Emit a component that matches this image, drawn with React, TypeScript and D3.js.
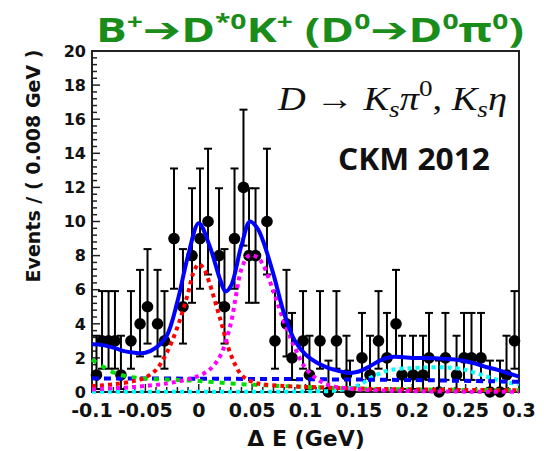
import React from "react";
import * as d3 from "d3";

// ---- data ----
const DATA_X = [
  -0.0958, -0.0906, -0.0845, -0.0785, -0.0729, -0.0635, -0.055, -0.048, -0.0386, -0.0321,
  -0.0232, -0.0148, -0.0063, 0.0012, 0.0087, 0.019, 0.0241, 0.0335, 0.0419, 0.0471,
  0.0532, 0.0639, 0.0714, 0.0822, 0.0874, 0.0977, 0.1037, 0.1136, 0.1215, 0.129,
  0.1384, 0.1417, 0.1529, 0.1604, 0.1684, 0.1763, 0.1848, 0.1904, 0.2007, 0.2101,
  0.2157, 0.2251, 0.2311, 0.2415, 0.2485, 0.2555, 0.2644, 0.2728, 0.2822, 0.2883, 0.2958,
];
const DATA_N = [
  1, 3, 3, 3, 1, 3, 4, 5, 4, 3,
  9, 5, 8, 9, 10, 8, 5, 9, 12, 8,
  8, 10, 3, 4, 2, 3, 1, 3, 0, 3,
  1, 0, 2, 1, 3, 2, 4, 1, 1, 1,
  2, 0, 2, 1, 2, 2, 2, 0, 0, 1, 3,
];
// Poisson (Garwood 68%) interval table, indexed by count
const POIS_LO = [0, 0.173, 0.708, 1.367, 2.086, 2.84, 3.62, 4.419, 5.232, 6.057, 6.891, 7.734, 8.585];
const POIS_HI = [1.841, 3.3, 4.638, 5.918, 7.163, 8.382, 9.584, 10.77, 11.95, 13.11, 14.27, 15.42, 16.56];

const TOTAL_X = [-0.1, -0.09, -0.08, -0.07, -0.06, -0.05, -0.04, -0.03, -0.02, -0.01, 0, 0.01, 0.02, 0.025, 0.03, 0.04, 0.048, 0.055, 0.06, 0.07, 0.08, 0.09, 0.1, 0.11, 0.12, 0.13, 0.14, 0.15, 0.16, 0.17, 0.18, 0.19, 0.2, 0.22, 0.24, 0.25, 0.26, 0.27, 0.28, 0.29, 0.3];
const TOTAL_Y = [2.8, 2.75, 2.6, 2.4, 2.3, 2.3, 2.6, 3.3, 5.3, 8.0, 9.9, 8.6, 6.6, 5.9, 6.2, 8.6, 10.0, 9.6, 8.9, 6.9, 4.6, 3.0, 2.2, 1.75, 1.45, 1.25, 1.12, 1.2, 1.5, 1.85, 2.05, 2.05, 2.0, 1.98, 1.9, 1.8, 1.65, 1.45, 1.3, 1.1, 0.9];

const RED_X = [-0.1, -0.08, -0.06, -0.05, -0.04, -0.03, -0.02, -0.01, -0.005, 0, 0.005, 0.01, 0.02, 0.03, 0.04, 0.05, 0.06, 0.08, 0.1, 0.15, 0.2, 0.3];
const RED_Y = [0.35, 0.45, 0.65, 0.85, 1.3, 2.3, 3.8, 5.8, 7.0, 7.5, 7.2, 6.4, 4.3, 2.2, 1.0, 0.6, 0.45, 0.35, 0.3, 0.2, 0.15, 0.1];

const MAG_X = [-0.1, -0.06, -0.03, -0.01, 0, 0.01, 0.02, 0.03, 0.035, 0.04, 0.047, 0.055, 0.06, 0.07, 0.08, 0.09, 0.1, 0.11, 0.12, 0.14, 0.2, 0.3];
const MAG_Y = [0.15, 0.3, 0.5, 0.75, 0.95, 1.3, 2.1, 4.0, 5.7, 7.2, 8.0, 7.9, 7.5, 5.9, 4.1, 2.6, 1.4, 0.8, 0.45, 0.2, 0.05, 0.02];

const GREEN_X = [-0.1, -0.09, -0.08, -0.07, -0.06, -0.04, -0.02, 0, 0.03, 0.06, 0.1, 0.15, 0.2, 0.3];
const GREEN_Y = [1.9, 1.5, 1.15, 0.95, 0.85, 0.75, 0.7, 0.65, 0.5, 0.4, 0.3, 0.2, 0.15, 0.1];

const BKG_X = [-0.1, 0.0, 0.1, 0.2, 0.3];
const BKG_Y = [0.8, 0.78, 0.75, 0.7, 0.6];

const CYAN_X = [-0.1, 0.1, 0.13, 0.15, 0.16, 0.17, 0.18, 0.2, 0.23, 0.25, 0.26, 0.27, 0.28, 0.29, 0.3];
const CYAN_Y = [0.02, 0.03, 0.1, 0.4, 0.8, 1.1, 1.3, 1.4, 1.45, 1.3, 1.1, 0.9, 0.7, 0.55, 0.45];

const X_TICKS = [-0.1, -0.05, 0, 0.05, 0.1, 0.15, 0.2, 0.25, 0.3];
const X_TICK_LABELS = ["-0.1", "-0.05", "0", "0.05", "0.1", "0.15", "0.2", "0.25", "0.3"];
const Y_TICKS = [0, 2, 4, 6, 8, 10, 12, 14, 16, 18, 20];

const W = 544;
const H = 451;
const L = 92, R = 519, T = 51, B = 392;

export default function App() {
  const x = d3.scaleLinear().domain([-0.1, 0.3]).range([L, R]);
  const y = d3.scaleLinear().domain([0, 20]).range([B, T]);

  const mk = (xs: number[], ys: number[]) =>
    d3.line<number>().x((_, i) => x(xs[i])).y((d) => y(d)).curve(d3.curveCatmullRom.alpha(0.5))(ys) || "";

  const minorY = d3.range(0, 20.001, 0.4);
  const minorX = d3.range(-0.1, 0.3001, 0.01);
  const tickFont = "'DejaVu Sans', sans-serif";

  return (
    <svg width={W} height={H} style={{ position: "absolute", left: 0, top: 0, display: "block", background: "#fff" }}>
      <rect x={0} y={0} width={W} height={H} fill="#fff" />
      {/* title */}
      <text x={96} y={42} fill="#1a8c1a" fontFamily="'Open Sans', sans-serif" fontWeight={700} fontSize={34}
        textLength={428} lengthAdjust="spacingAndGlyphs">
        B<tspan dy={-13} fontSize={21}>+</tspan>
        <tspan dy={13} fontFamily="'DejaVu Sans', sans-serif">➔</tspan>D
        <tspan dy={-13} fontSize={21}>*0</tspan>
        <tspan dy={13}>K</tspan>
        <tspan dy={-13} fontSize={21}>+</tspan>
        <tspan dy={13}> (D</tspan>
        <tspan dy={-13} fontSize={21}>0</tspan>
        <tspan dy={13} fontFamily="'DejaVu Sans', sans-serif">➔</tspan>D
        <tspan dy={-13} fontSize={21}>0</tspan>
        <tspan dy={13}>π</tspan>
        <tspan dy={-13} fontSize={21}>0</tspan>
        <tspan dy={13}>)</tspan>
      </text>

      {/* frame */}
      <rect x={L} y={T} width={R - L} height={B - T} fill="none" stroke="#222" strokeWidth={2} />

      {/* y ticks */}
      {minorY.map((v, i) => {
        const major = i % 5 === 0;
        return <line key={"ym" + i} x1={L} x2={L + (major ? 8 : 5)} y1={y(v)} y2={y(v)} stroke="#222" strokeWidth={1.5} />;
      })}
      {Y_TICKS.map((v) => (
        <text key={"yl" + v} x={86} y={y(v)} dy="0.36em" textAnchor="end" fontFamily={tickFont} fontWeight={700} fontSize={16} fill="#111">
          {v}
        </text>
      ))}
      {/* x ticks */}
      {minorX.map((v, i) => {
        const major = i % 5 === 0;
        return <line key={"xm" + i} x1={x(v)} x2={x(v)} y1={B} y2={B - (major ? 8 : 5)} stroke="#222" strokeWidth={1.5} />;
      })}
      {X_TICKS.map((v, i) => (
        <text key={"xl" + i} x={x(v)} y={417} textAnchor="middle" fontFamily={tickFont} fontWeight={700} fontSize={19} fill="#111">
          {X_TICK_LABELS[i]}
        </text>
      ))}

      {/* axis titles */}
      <text transform="translate(40,166) rotate(-90)" textAnchor="middle" fontFamily={tickFont} fontWeight={700} fontSize={19} fill="#111">
        Events / ( 0.008 GeV )
      </text>
      <text x={306} y={446} textAnchor="middle" fontFamily={tickFont} fontWeight={700} fontSize={22} fill="#111">
        Δ E (GeV)
      </text>

      {/* data points */}
      {DATA_X.map((dx, i) => {
        const n = DATA_N[i];
        const cx = x(dx);
        const lo = y(POIS_LO[n]);
        const hi = y(POIS_HI[n]);
        return (
          <g key={"d" + i}>
            <line x1={cx} x2={cx} y1={lo} y2={hi} stroke="#000" strokeWidth={2} />
            <line x1={cx - 4} x2={cx + 4} y1={hi} y2={hi} stroke="#000" strokeWidth={2} />
            {n > 0 && <line x1={cx - 4} x2={cx + 4} y1={lo} y2={lo} stroke="#000" strokeWidth={2} />}
            <circle cx={cx} cy={y(n)} r={5.8} fill="#000" />
          </g>
        );
      })}

      {/* fit components */}
      <path d={mk(CYAN_X, CYAN_Y)} fill="none" stroke="#00ffff" strokeWidth={4} strokeDasharray="4,4" />
      <path d={mk(BKG_X, BKG_Y)} fill="none" stroke="#0000ff" strokeWidth={4} strokeDasharray="7,5" />
      <path d={mk(GREEN_X, GREEN_Y)} fill="none" stroke="#00e000" strokeWidth={4} strokeDasharray="5,6" />
      <path d={mk(RED_X, RED_Y)} fill="none" stroke="#ff0000" strokeWidth={4} strokeDasharray="4,4" />
      <path d={mk(MAG_X, MAG_Y)} fill="none" stroke="#ff00ff" strokeWidth={4} strokeDasharray="4,4" />
      <path d={mk(TOTAL_X, TOTAL_Y)} fill="none" stroke="#0000ff" strokeWidth={4} />

      {/* annotations */}
      <text x={278} y={110} fontFamily="'Liberation Serif', serif" fontSize={34} fill="#111" textLength={229} lengthAdjust="spacingAndGlyphs">
        <tspan fontStyle="italic">D</tspan>
        <tspan> → </tspan>
        <tspan fontStyle="italic">K</tspan>
        <tspan fontStyle="italic" fontSize={24} dy={7}>s</tspan>
        <tspan fontStyle="italic" dy={-7}>π</tspan>
        <tspan fontSize={24} dy={-14}>0</tspan>
        <tspan dy={14}>, </tspan>
        <tspan fontStyle="italic">K</tspan>
        <tspan fontStyle="italic" fontSize={24} dy={7}>s</tspan>
        <tspan fontStyle="italic" dy={-7}>η</tspan>
      </text>
      <text x={338} y={170} fontFamily="'Open Sans', sans-serif" fontWeight={700} fontSize={30} fill="#111" textLength={152} lengthAdjust="spacingAndGlyphs">
        CKM 2012
      </text>
    </svg>
  );
}
